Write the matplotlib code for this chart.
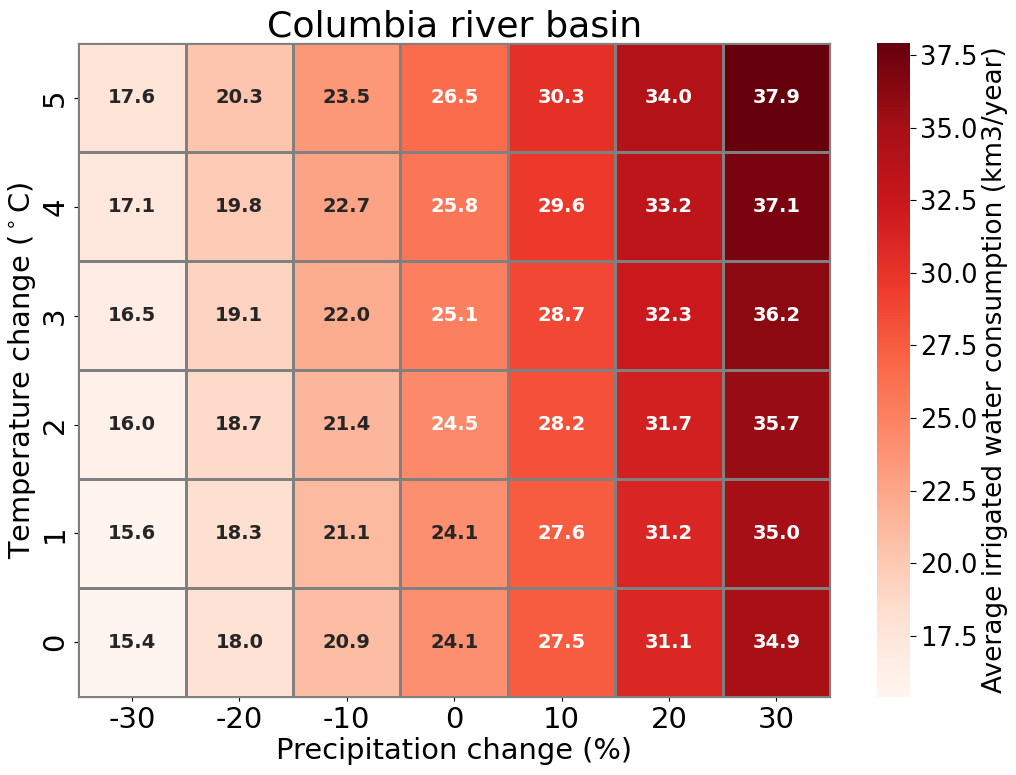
import numpy as np
import matplotlib
matplotlib.use("Agg")
import matplotlib.pyplot as plt
from matplotlib.ticker import FormatStrFormatter
import seaborn as sns

precip = [-30, -20, -10, 0, 10, 20, 30]
temps = [5, 4, 3, 2, 1, 0]

row_t5 = [17.6, 20.3, 23.5, 26.5, 30.3, 34.0, 37.9]
row_t4 = [17.1, 19.8, 22.7, 25.8, 29.6, 33.2, 37.1]
row_t3 = [16.5, 19.1, 22.0, 25.1, 28.7, 32.3, 36.2]
row_t2 = [16.0, 18.7, 21.4, 24.5, 28.2, 31.7, 35.7]
row_t1 = [15.6, 18.3, 21.1, 24.1, 27.6, 31.2, 35.0]
row_t0 = [15.4, 18.0, 20.9, 24.1, 27.5, 31.1, 34.9]
values = np.array([row_t5, row_t4, row_t3, row_t2, row_t1, row_t0])

fig = plt.figure(figsize=(10.16, 7.75), dpi=100)
ax = fig.add_axes([0.077, 0.101, 0.740, 0.843])
cax = fig.add_axes([0.863, 0.101, 0.0325, 0.843])

sns.heatmap(values, cmap="Reds", annot=True, fmt=".1f", linewidths=0.9, linecolor="gray",
            annot_kws={"size": 14, "weight": "bold"},
            xticklabels=precip, yticklabels=temps, ax=ax, cbar_ax=cax,
            cbar_kws={"ticks": [17.5, 20, 22.5, 25, 27.5, 30, 32.5, 35, 37.5]})

for s in ax.spines.values():
    s.set_visible(True)
    s.set_color("gray")
    s.set_linewidth(0.9)

ax.set_title("Columbia river basin", fontsize=26.2, pad=4)
ax.set_xlabel("Precipitation change (%)", fontsize=20.8, labelpad=2)
ax.set_ylabel("Temperature change ($^\\circ$C)", fontsize=20.8, labelpad=2)
ax.tick_params(axis="both", labelsize=21, length=3, width=0.8)
ax.tick_params(axis="y", labelrotation=90)
for t in ax.get_yticklabels():
    t.set_va("center")

cax.tick_params(labelsize=18.5, length=4, width=0.8)
cax.yaxis.set_major_formatter(FormatStrFormatter("%.1f"))
cax.set_ylabel("Average irrigated water consumption (km3/year)", fontsize=19, labelpad=3)

fig.savefig("out.png", dpi=100)
